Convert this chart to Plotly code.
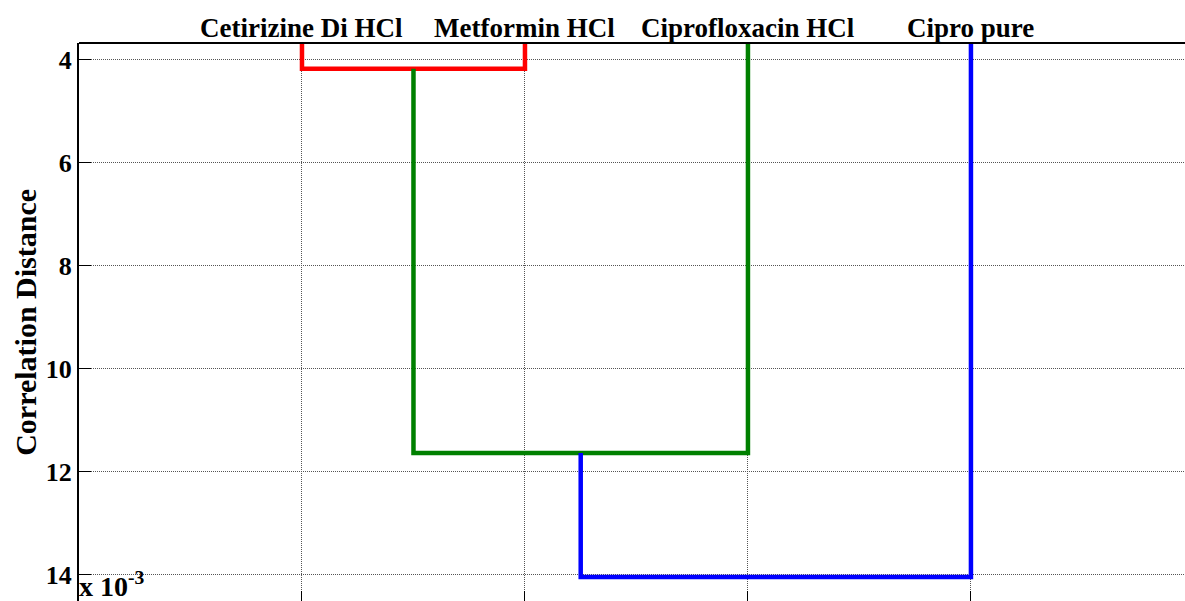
import plotly.graph_objects as go

# Leaf labels in dendrogram order and their positions along the x axis
leaf_labels = ["Cetirizine Di HCl", "Metformin HCl", "Ciprofloxacin HCl", "Cipro pure"]
leaf_pos = [1, 2, 3, 4]

# Linkage heights (correlation distance, in units of 10^-3)
merge_heights = [4.18, 11.64, 14.05]
merge_colors = ["#ff0000", "#008000", "#0000ff"]
y_ticks = [4, 6, 8, 10, 12, 14]

# Each link: (left x, left bottom height, right x, right bottom height, merge height)
# leaves start at distance 0; inner nodes start at their own merge height
c1 = (leaf_pos[0] + leaf_pos[1]) / 2
c2 = (c1 + leaf_pos[2]) / 2
links = [
    (leaf_pos[0], 0, leaf_pos[1], 0, merge_heights[0]),
    (c1, merge_heights[0], leaf_pos[2], 0, merge_heights[1]),
    (c2, merge_heights[1], leaf_pos[3], 0, merge_heights[2]),
]

serif = "Liberation Serif, Times New Roman, serif"

fig = go.Figure()
for (xl, yl, xr, yr, h), col in zip(links, merge_colors):
    fig.add_trace(go.Scatter(
        x=[xl, xl, xr, xr], y=[yl, h, h, yr],
        mode="lines", line=dict(color=col, width=4.5),
        showlegend=False, hoverinfo="skip",
    ))

x_range = [0, 4.96]
grid_style = dict(showgrid=True, gridcolor="#555555", gridwidth=1, griddash="1px,1px")

# leaf labels sit just above the top frame line
annotations = [
    dict(text=lab, x=pos, xref="x", y=1, yref="paper", xanchor="center",
         yanchor="bottom", yshift=-2, showarrow=False,
         font=dict(family=serif, size=27, color="black", weight="bold"))
    for lab, pos in zip(leaf_labels, leaf_pos)
]
annotations.append(dict(
    text="x 10<sup>-3</sup>", xref="paper", yref="paper", x=0, y=0,
    xanchor="left", yanchor="bottom", showarrow=False, xshift=-2, yshift=-3,
    font=dict(family=serif, size=28, color="black", weight="bold"),
))
annotations.append(dict(
    text="Correlation Distance", xref="paper", yref="paper", x=-0.049, y=0.5,
    xanchor="center", yanchor="middle", textangle=-90, showarrow=False,
    font=dict(family=serif, size=30, color="black", weight="bold"),
))

fig.update_layout(
    width=1185, height=601,
    margin=dict(l=79, r=0, t=43, b=0),
    paper_bgcolor="white", plot_bgcolor="white",
    xaxis=dict(
        range=x_range, tickvals=leaf_pos, showticklabels=False,
        ticks="inside", ticklen=10, tickcolor="black", tickwidth=1,
        showline=False, zeroline=False, **grid_style,
    ),
    yaxis=dict(
        range=[14.515, 3.68], tickvals=y_ticks,
        ticks="inside", ticklen=12, tickcolor="black", tickwidth=1,
        tickfont=dict(family=serif, size=26, color="black", weight="bold"),
        showline=True, linecolor="black", linewidth=2,
        zeroline=False, **grid_style,
    ),
    shapes=[dict(type="line", xref="paper", yref="paper", x0=0, x1=1, y0=1, y1=1,
                 line=dict(color="black", width=2))],
    annotations=annotations,
)

fig.write_html("out.html")
